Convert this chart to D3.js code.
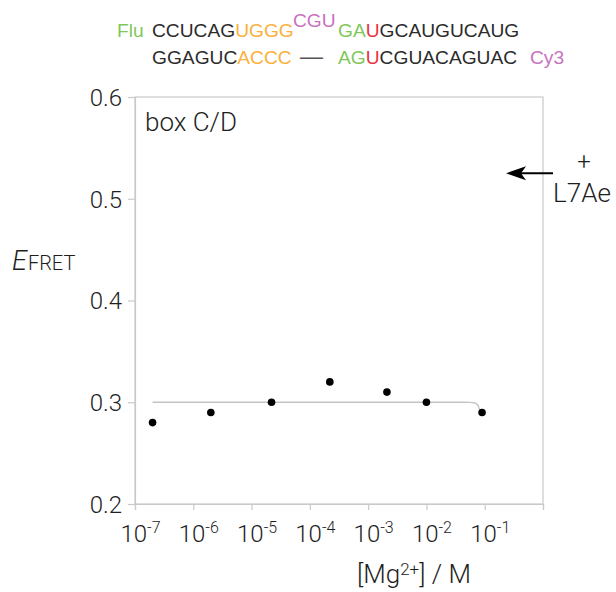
<!DOCTYPE html>
<html><head><meta charset="utf-8">
<script src="https://cdn.jsdelivr.net/npm/d3@7"></script>
<style>
body{margin:0;background:#fff;}
text{font-family:"Roboto","Liberation Sans",Arial,sans-serif;font-weight:300;}
text.seq{font-family:"Liberation Sans",Arial,sans-serif;font-weight:400;}
</style></head>
<body><svg id="c" width="616" height="592"></svg>
<script>
// ---- data ----
const mgConc   = [2e-7, 2e-6, 2.2e-5, 2.2e-4, 2.1e-3, 1e-2, 9e-2];
const efret    = [0.28, 0.29, 0.30, 0.32, 0.31, 0.30, 0.29];
const fitConc  = [2e-7, 1e-3, 3e-2, 5.5e-2, 6.5e-2, 7.2e-2, 7.8e-2, 8.3e-2];
const fitE     = [0.300, 0.300, 0.300, 0.2999, 0.2995, 0.2985, 0.296, 0.291];
const xTickExp = [-7, -6, -5, -4, -3, -2, -1, 0];
const yTicks   = [0.2, 0.3, 0.4, 0.5, 0.6];
const green = "#7fc75a", orange = "#fbb03b", pink = "#c972c1", red = "#e8333f", dark = "#2b2b2b";
const seqTop = [["Flu", green, 117, 0], ["CCUCAG", dark, 152, 0], ["UGGG", orange, null, 0], ["CGU", pink, 293, 1], ["GA", green, 338, 0], ["U", red, null, 0], ["GCAUGUCAUG", dark, null, 0]];
const seqBot = [["GGAGUC", dark, 152], ["ACCC", orange, null], ["\u2014", "#555", 300], ["AG", green, 338], ["U", red, null], ["CGUACAGUAC", dark, null], ["Cy3", pink, 530]];

const svg = d3.select("#c");
const x = d3.scaleLog().domain([1e-7, 1]).range([135, 543]);
const y = d3.scaleLinear().domain([0.2, 0.6]).range([504, 97]);
const axisCol = "#c9c9c9", textCol = "#1e1e1e";

// frame
svg.append("rect").attr("x", x(1e-7)).attr("y", y(0.6))
  .attr("width", x(1) - x(1e-7)).attr("height", y(0.2) - y(0.6))
  .attr("fill", "none").attr("stroke", axisCol).attr("stroke-width", 1.2);

// y axis
const ya = svg.append("g").attr("transform", `translate(${x(1e-7)},0)`)
  .call(d3.axisLeft(y).tickValues(yTicks).tickSize(7).tickPadding(6).tickFormat(d3.format(".1f")));
ya.selectAll("path,line").attr("stroke", axisCol).attr("stroke-width", 1.2);
ya.selectAll("text").attr("font-size", 24).attr("fill", textCol).attr("font-family", null).attr("dy", "0.35em");

// x axis
const xa = svg.append("g").attr("transform", `translate(0,${y(0.2)})`)
  .call(d3.axisBottom(x).tickValues(xTickExp.map(e => Math.pow(10, e))).tickSize(6).tickFormat(() => ""));
xa.selectAll("path,line").attr("stroke", axisCol).attr("stroke-width", 1.2);
xa.selectAll(".tick text").each(function(d) {
  const e = Math.round(Math.log10(d));
  const t = d3.select(this);
  t.attr("y", 38).attr("dy", null).attr("font-size", 24).attr("fill", textCol)
   .attr("font-family", null).attr("text-anchor", "middle").attr("x", 5);
  if (e === 0) return;
  t.append("tspan").text("10");
  t.append("tspan").text(String(e)).attr("font-size", 16).attr("dy", -9);
});

// fit curve
const fit = fitConc.map((c, i) => [c, fitE[i]]);
svg.append("path").datum(fit)
  .attr("d", d3.line().x(d => x(d[0])).y(d => y(d[1])).curve(d3.curveMonotoneX))
  .attr("fill", "none").attr("stroke", "#c4c4c4").attr("stroke-width", 1.4);

// points
svg.selectAll("circle.pt").data(mgConc).join("circle").attr("class", "pt")
  .attr("cx", d => x(d)).attr("cy", (d, i) => y(efret[i])).attr("r", 3.8).attr("fill", "#000");

// labels
svg.append("text").attr("x", 145).attr("y", 131).attr("font-size", 26).attr("fill", textCol).text("box C/D");

const yl = svg.append("text").attr("x", 12).attr("y", 270).attr("fill", textCol);
yl.append("tspan").text("E").attr("font-style", "italic").attr("font-size", 27);
yl.append("tspan").text("FRET").attr("font-size", 20).attr("dx", 1);

const xl = svg.append("text").attr("x", 357).attr("y", 583).attr("font-size", 26).attr("fill", textCol);
xl.append("tspan").text("[Mg");
xl.append("tspan").text("2+").attr("font-size", 17).attr("dy", -8);
xl.append("tspan").text("] / M").attr("dy", 8);

// arrow + L7Ae
const ay = y(0.525);
svg.append("line").attr("x1", 553).attr("y1", ay).attr("x2", 515).attr("y2", ay)
  .attr("stroke", "#000").attr("stroke-width", 2);
svg.append("path").attr("d", `M506,${ay} L526,${ay - 7} L521,${ay} L526,${ay + 7} Z`).attr("fill", "#000");
svg.append("text").attr("x", 584).attr("y", 170).attr("font-size", 24).attr("text-anchor", "middle").attr("fill", textCol).text("+");
svg.append("text").attr("x", 553).attr("y", 202).attr("font-size", 26).attr("fill", textCol).text("L7Ae");

// sequences
const s1 = svg.append("text").attr("class", "seq").attr("y", 37).attr("font-size", 19.2);
let up = 0;
seqTop.forEach(([t, c, px, sup]) => {
  const ts = s1.append("tspan").text(t).attr("fill", c);
  if (px !== null) ts.attr("x", px);
  if (sup && !up) { ts.attr("dy", -10); up = 1; }
  else if (!sup && up) { ts.attr("dy", 10); up = 0; }
});
const s2 = svg.append("text").attr("class", "seq").attr("y", 64).attr("font-size", 19.2);
seqBot.forEach(([t, c, px]) => {
  const ts = s2.append("tspan").text(t).attr("fill", c);
  if (px !== null) ts.attr("x", px);
  if (t === "\u2014") ts.attr("font-size", 23).attr("font-weight", 300);
});
</script></body></html>
